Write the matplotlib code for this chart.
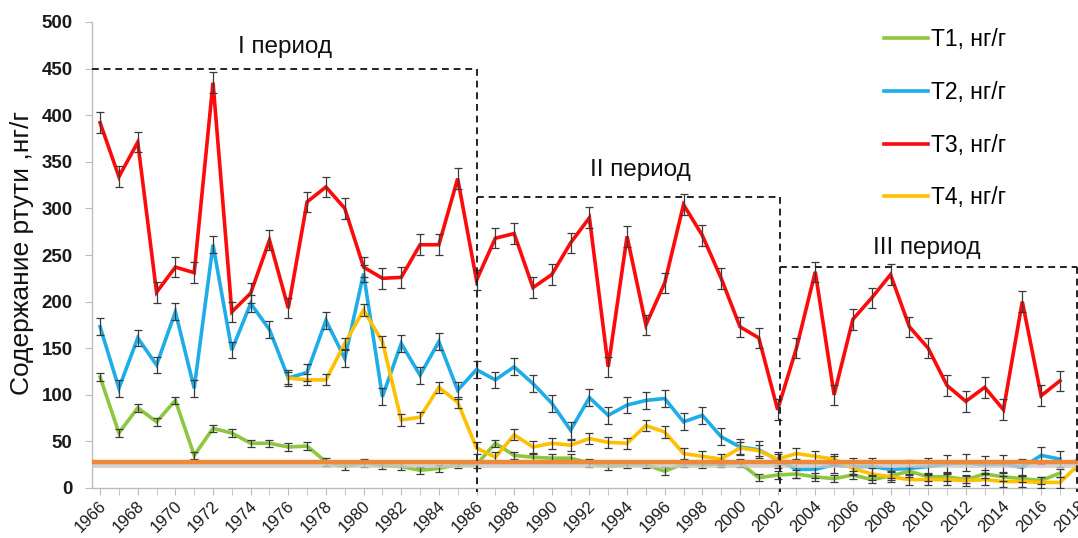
import matplotlib
matplotlib.use("Agg")
import matplotlib.pyplot as plt
import matplotlib.transforms as mtransforms
import numpy as np

plt.rcParams['font.family'] = ['Liberation Sans', 'DejaVu Sans']

# ---------------- data ----------------
years_t123 = list(range(1966, 2019))
years_t4 = list(range(1976, 2019))

t1 = [119, 59, 86, 71, 94, 35, 64, 59, 48, 48,
      44, 45, 28, 23, 27, 24, 23, 19, 21, 25,
      25, 48, 35, 33, 32, 32, 27, 23, 25, 25,
      18, 26, 25, 26, 27, 11, 14, 15, 12, 10,
      14, 9, 13, 18, 12, 12, 9, 15, 12, 10,
      8, 16, None]

t2 = [173, 107, 161, 132, 189, 107, 261, 148, 198, 170,
      118, 124, 180, 139, 230, 98, 155, 121, 157, 105,
      127, 116, 130, 112, 91, 62, 97, 78, 89, 94,
      96, 71, 78, 55, 44, 41, 30, 20, 20, 25,
      23, 23, 20, 21, 23, 26, 27, 25, 26, 22,
      35, 31, None]

t3 = [392, 334, 371, 210, 237, 231, 435, 189, 209, 266,
      193, 307, 323, 300, 237, 225, 226, 261, 261, 332,
      223, 268, 273, 215, 229, 263, 290, 130, 270, 175,
      220, 304, 271, 225, 173, 161, 84, 150, 232, 100,
      181, 204, 229, 173, 150, 110, 93, 108, 84, 200,
      99, 115, None]

t4 = [118, 116, 116, 155, 191, 157, 73, 76, 108, 92,
      43, 33, 57, 44, 48, 46, 53, 49, 48, 67,
      60, 37, 34, 31, 43, 40, 31, 37, 34, 31,
      21, 15, 12, 9, 9, 9, 8, 9, 7, 7,
      6, 6, 25]

err_t1 = 4
err_t2 = 9
err_t3 = 11
err_t4 = 6

threshold = 28

series_labels = ["T1, нг/г", "T2, нг/г", "T3, нг/г", "T4, нг/г"]
series_colors = ["#8DC63F", "#1EADE8", "#FF0A0A", "#FFC000"]

period_labels = ["I период", "II период", "III период"]
period_edges = [1965.57, 1986.0, 2002.1, 2017.9]
period_tops = [450, 312, 237]
period_label_pos = [(1975.8, 473), (1994.7, 341), (2009.9, 258)]

ytick_vals = list(range(0, 501, 50))
xtick_major = list(range(1966, 2019, 2))
xtick_minor = list(range(1967, 2019, 2))
ylabel = "Содержание ртути ,нг/г"

# ---------------- figure ----------------
W, H = 1078, 538
fig = plt.figure(figsize=(W / 100, H / 100), dpi=100)
ax = fig.add_axes([92 / W, 1 - 488 / H, (1084.4 - 92) / W, (488 - 22) / H])
ax.set_xlim(1965.57, 2018.3)
ax.set_ylim(0, 500)


def to_arr(vals):
    return np.array([np.nan if v is None else v for v in vals], dtype=float)


data = [(years_t123, to_arr(t1), err_t1),
        (years_t123, to_arr(t2), err_t2),
        (years_t123, to_arr(t3), err_t3),
        (years_t4, to_arr(t4), err_t4)]

handles = []
for (xs, ys, e), col, lab in zip(data, series_colors, series_labels):
    ln, = ax.plot(xs, ys, color=col, lw=2.6, zorder=3, label=lab,
                  solid_joinstyle='miter')
    ax.errorbar(xs, ys, yerr=e, fmt='none', ecolor='#3a3a3a',
                elinewidth=0.9, capsize=3, capthick=0.9, zorder=4)
    handles.append(ln)

# threshold line with a soft grey shadow
ax.axhline(threshold - 3.5, color='#c8c8c8', lw=3.5, alpha=0.8, zorder=4.5)
ax.axhline(threshold, color='#F0883A', lw=3.2, zorder=5)

# period boxes
dash = dict(color='#222222', lw=1.4, linestyle=(0, (3.5, 2.5)), zorder=6,
            clip_on=False)
for i, top in enumerate(period_tops):
    x0, x1 = period_edges[i], period_edges[i + 1]
    ax.plot([x0, x1], [top, top], **dash)
    ax.plot([x1, x1], [top, -4], **dash)

for lab, (px, py) in zip(period_labels, period_label_pos):
    ax.text(px, py, lab, fontsize=17.5, ha='center', va='center', color='#111111')

# axes styling
for s in ['top', 'right']:
    ax.spines[s].set_visible(False)
for s in ['left', 'bottom']:
    ax.spines[s].set_color('#bdbdbd')
    ax.spines[s].set_linewidth(1.0)

ax.set_yticks(ytick_vals)
ax.set_yticklabels([str(v) for v in ytick_vals], fontsize=13.5,
                   fontweight='bold', color='#1a1a1a')
ax.tick_params(axis='y', length=5, color='#bdbdbd', pad=9)

ax.set_xticks(xtick_major)
ax.set_xticks(xtick_minor, minor=True)
ax.set_xticklabels([str(v) for v in xtick_major], fontsize=12,
                   rotation=45, ha='right', va='center',
                   rotation_mode='anchor', color='#1a1a1a')
ax.tick_params(axis='x', which='both', length=5, color='#bdbdbd', pad=6)
offset = mtransforms.ScaledTranslation(4 / 100, 0, fig.dpi_scale_trans)
for lbl in ax.get_xticklabels():
    lbl.set_transform(lbl.get_transform() + offset)

fig.text(22 / W, 1 - 253 / H, ylabel, rotation=90, fontsize=19,
         ha='center', va='center', color='#111111')

fig.legend(handles=handles, loc='upper left',
           bbox_to_anchor=(884 / W, 1 - 28 / H), frameon=False,
           fontsize=16.5, handlelength=1.9, handletextpad=0.15,
           labelspacing=1.3, borderpad=0, borderaxespad=0)

fig.savefig("out.png", dpi=100, facecolor='white')
